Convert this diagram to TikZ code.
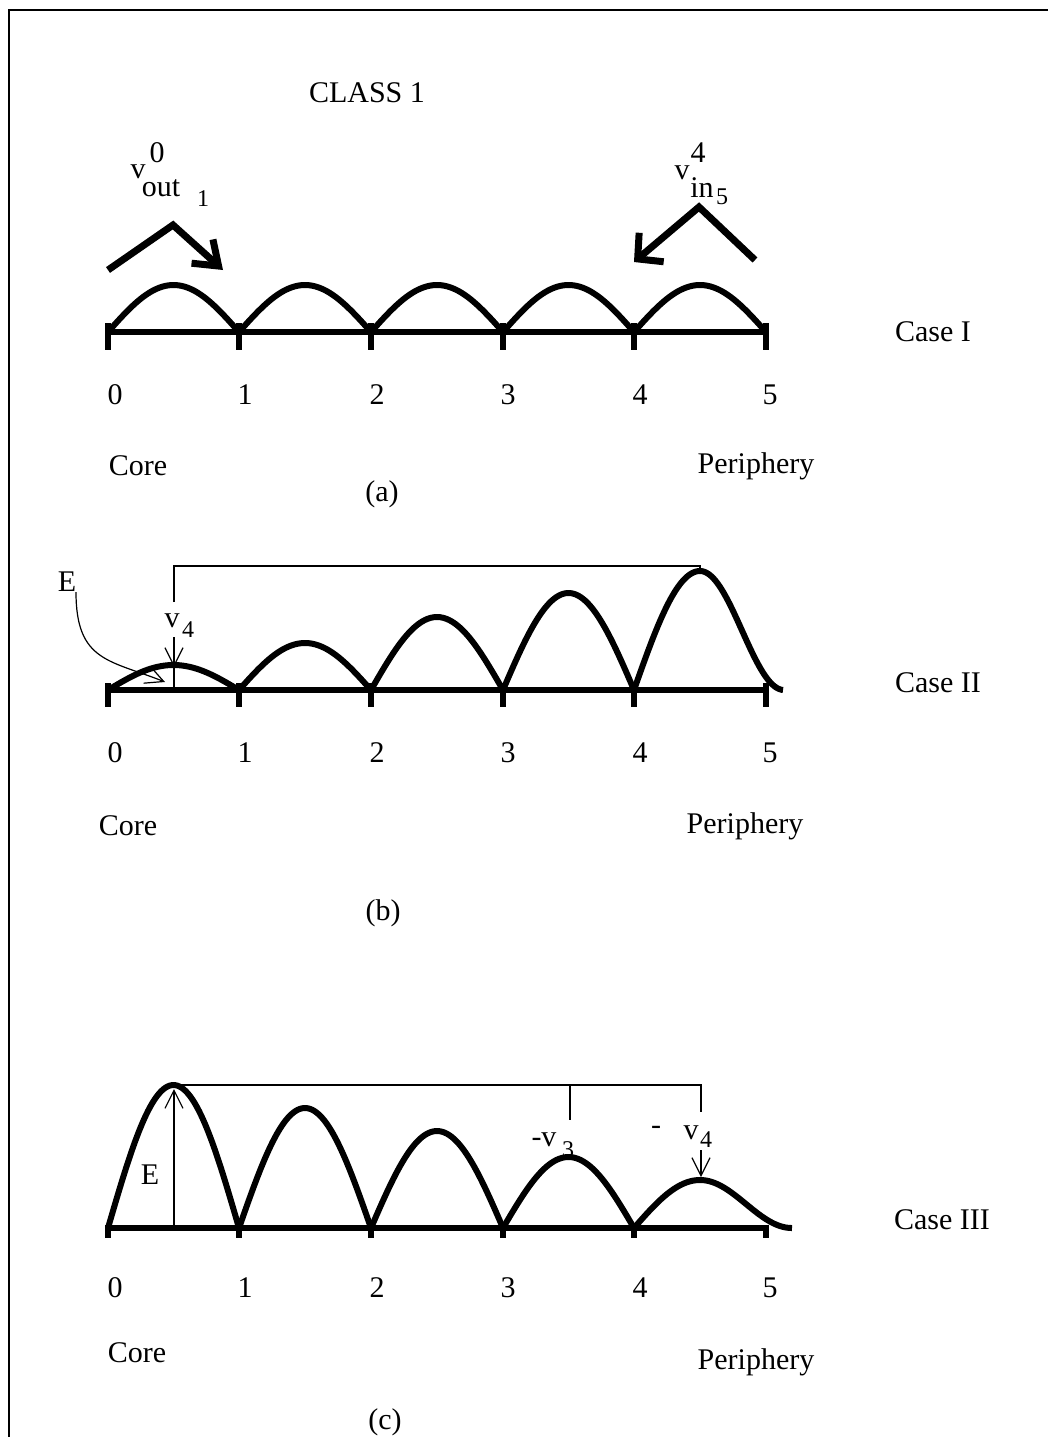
\documentclass[tikz,border=0pt]{standalone}
\usepackage{fontspec}
\setmainfont{Liberation Serif}
\usetikzlibrary{arrows.meta}
\tikzset{
  axisline/.style={line width=3pt},
  tickmark/.style={line width=3pt},
  arch/.style={line width=3pt, line join=round, samples=60},
  thinline/.style={line width=0.6pt},
  openhead/.style={-{Straight Barb[length=9pt, width=9pt]}, line width=0.6pt},
  lbl/.style={font=\fontsize{15}{18}\selectfont, inner sep=0pt},
  idx/.style={font=\fontsize{12}{14}\selectfont, inner sep=0pt},
}
\begin{document}
\begin{tikzpicture}[x=0.5pt, y=-0.5pt]
  \useasboundingbox (0,0) rectangle (1048,1437);
  % 0. frame and title
  \draw[line width=0.8pt] (9,1437) -- (9,10) -- (1048,10);
  \node[lbl] (title) at (367,93) {CLASS 1};

  % 1. panel (a): equal arches
  \draw[axisline] (108,332) -- (766,332);
  \foreach \t in {108,239,371,503,634,766}
    \draw[tickmark] (\t,323) -- (\t,350);
  \foreach \a/\b in {108/239, 239/371, 371/503, 503/634, 634/766}
    \draw[arch, domain=\a:\b] plot (\x, {332 - 47*sin((\x-\a)/(\b-\a)*180)});
  \draw[line width=3.5pt, line join=miter, -{Straight Barb[length=11pt, width=16pt]}]
    (108,270) -- (173,225) -- (223,270);
  \draw[line width=3.5pt, line join=miter, -{Straight Barb[length=9pt, width=19pt]}]
    (755,260) -- (699,207) -- (634,262);
  \node[lbl] (vout) at (138,172) {v};
  \node[lbl] (vout0) at (157,153) {0};
  \node[lbl] (out) at (161,188) {out};
  \node[idx] (out1) at (203,199) {1};
  \node[lbl] (vin) at (682,173) {v};
  \node[lbl] (vin4) at (698,153) {4};
  \node[lbl] (in) at (702,188) {in};
  \node[idx] (in5) at (722,197) {5};
  \foreach \t/\n in {115/0, 245/1, 377/2, 508/3, 640/4, 770/5}
    \node[lbl] (a\n) at (\t,395) {\n};
  \node[lbl] (acore) at (138,466) {Core};
  \node[lbl] (aper) at (756,466) {Periphery};
  \node[lbl] (acap) at (382,494) {(a)};
  \node[lbl] (acase) at (933,332) {Case I};

  % 2. panel (b): growing arches
  \node[lbl] (bv) at (172,621) {v};
  \node[idx] (bv4) at (188,630) {4};
  \node[lbl] (bE) at (67,582) {E};
  \draw[axisline] (108,690) -- (766,690);
  \foreach \t in {108,239,371,503,634,766}
    \draw[tickmark] (\t,683) -- (\t,707);
  \foreach \a/\b/\h in {108/239/25, 239/371/47, 371/503/73, 503/634/97}
    \draw[arch, domain=\a:\b] plot (\x, {690 - \h*sin((\x-\a)/(\b-\a)*180)});
  \draw[arch, domain=634:700] plot (\x, {690 - 119*sin((\x-634)/66*90)})
    -- plot[domain=700:783] (\x, {690 - 119*(1+cos((\x-700)/84*180))/2});
  \coordinate (pb1) at (174,667);
  \coordinate (pb5) at (700,571);
  \draw[thinline] (174,602) |- (700,566) -- (pb5);
  \draw[openhead] (174,637) -- (pb1);
  \draw[thinline] (pb1) -- (174,690);
  \draw[openhead] (76,592) .. controls (76,662) and (110,660) .. (165,682);
  \foreach \t/\n in {115/0, 245/1, 377/2, 508/3, 640/4, 770/5}
    \node[lbl] (b\n) at (\t,753) {\n};
  \node[lbl] (bcore) at (128,826) {Core};
  \node[lbl] (bper) at (745,826) {Periphery};
  \node[lbl] (bcap) at (383,913) {(b)};
  \node[lbl] (bcase) at (938,683) {Case II};

  % 3. panel (c): decaying arches
  \node[lbl] (cv3) at (544,1140) {-v};
  \node[idx] (c3) at (568,1150) {3};
  \node[lbl] (cdash) at (656,1130) {-};
  \node[lbl] (cv) at (691,1133) {v};
  \node[idx] (cv4) at (706,1140) {4};
  \node[lbl] (cE) at (150,1175) {E};
  \draw[axisline] (108,1228) -- (766,1228);
  \foreach \t in {108,239,371,503,634,766}
    \draw[tickmark] (\t,1225) -- (\t,1238);
  \foreach \a/\b/\h in {108/239/143, 239/371/120, 371/503/97, 503/634/71}
    \draw[arch, domain=\a:\b] plot (\x, {1228 - \h*sin((\x-\a)/(\b-\a)*180)});
  \draw[arch, domain=634:700] plot (\x, {1228 - 48*sin((\x-634)/66*90)})
    -- plot[domain=700:792] (\x, {1228 - 48*(1+cos((\x-700)/92*180))/2});
  \coordinate (pc1) at (174,1085);
  \coordinate (pc5) at (701,1177);
  \draw[thinline] (pc1) -- (701,1085) -- (701,1112);
  \draw[thinline] (570,1085) -- (570,1120);
  \draw[openhead] (701,1150) -- (pc5);
  \draw[openhead] (174,1228) -- (174,1089);
  \foreach \t/\n in {115/0, 245/1, 377/2, 508/3, 640/4, 770/5}
    \node[lbl] (c\n) at (\t,1288) {\n};
  \node[lbl] (ccore) at (137,1353) {Core};
  \node[lbl] (cper) at (756,1362) {Periphery};
  \node[lbl] (ccap) at (385,1422) {(c)};
  \node[lbl] (ccase) at (942,1220) {Case III};
\end{tikzpicture}
\end{document}
